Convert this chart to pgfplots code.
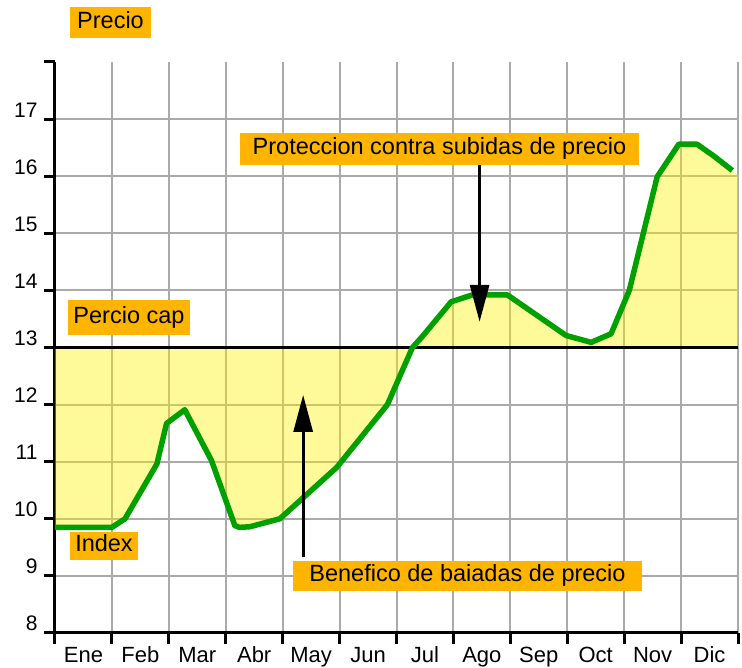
\documentclass[border=0pt]{standalone}
\usepackage{pgfplots}
\pgfplotsset{compat=1.18}
\usepackage{fontspec}
\setmainfont{Liberation Sans}
\usetikzlibrary{arrows.meta}
\definecolor{boxor}{RGB}{255,180,0}
\definecolor{lgreen}{RGB}{0,160,0}
\definecolor{gridg}{RGB}{170,170,170}
\begin{document}
\begin{tikzpicture}[x=1pt,y=1pt]
\begin{axis}[
  at={(0pt,0pt)}, anchor=south west,
  scale only axis, width=683pt, height=571pt,
  xmin=0, xmax=12, ymin=8, ymax=18,
  axis x line*=bottom, axis y line*=left,
  axis line style={line width=3pt, black},
  xtick={0,...,12},
  xticklabels={Ene,Feb,Mar,Abr,May,Jun,Jul,Ago,Sep,Oct,Nov,Dic,{}},
  xticklabel style={anchor=base, xshift=28.46pt, yshift=-19pt, font=\fontsize{22}{26}\selectfont},
  ytick={8,...,17},
  extra y ticks={18}, extra y tick labels={}, extra y tick style={grid=none},
  yticklabel style={anchor=base east, yshift=2pt, xshift=-3pt, font=\fontsize{21}{25}\selectfont},
  /pgf/number format/assume math mode=true,
  tick align=outside, major tick length=11pt,
  tick style={line width=3pt, black},
  grid=major, grid style={line width=2pt, gridg},
  clip=false,
]
\addplot[draw=none, fill=yellow, fill opacity=0.4] coordinates {
(0,13) (0,9.85) (1,9.85) (1.23,10.0) (1.79,10.96) (1.96,11.67) (2.28,11.91) (2.75,11.02)
(3.16,9.88) (3.24,9.85) (3.42,9.86) (3.95,10.0) (4.95,10.9) (5.84,12.0) (6.28,13.0)
(6.46,13.2) (6.96,13.8) (7.33,13.92) (7.95,13.92) (8.98,13.21) (9.42,13.09) (9.77,13.24)
(10.09,14.0) (10.58,15.99) (10.96,16.56) (11.28,16.56) (11.58,16.35) (11.9,16.1) (12,16.0) (12,13)
} -- cycle;
\addplot[black, line width=3pt] coordinates {(0,13) (12,13)};
\addplot[lgreen, line width=5.5pt, line join=round] coordinates {
(0,9.85) (1,9.85) (1.23,10.0) (1.79,10.96) (1.96,11.67) (2.28,11.91) (2.75,11.02)
(3.16,9.88) (3.24,9.85) (3.42,9.86) (3.95,10.0) (4.95,10.9) (5.84,12.0) (6.28,13.0)
(6.46,13.2) (6.96,13.8) (7.33,13.92) (7.95,13.92) (8.98,13.21) (9.42,13.09) (9.77,13.24)
(10.09,14.0) (10.58,15.99) (10.96,16.56) (11.28,16.56) (11.58,16.35) (11.9,16.1)
};
\draw[line width=3pt, -{Triangle[width=19pt,length=37pt]}] (axis cs:7.46,16.2) -- (axis cs:7.46,13.45);
\draw[line width=3pt, -{Triangle[width=19pt,length=37pt]}] (axis cs:4.36,9.33) -- (axis cs:4.36,12.17);
\coordinate (O) at (axis cs:0,8);
\end{axis}
\begin{scope}[shift={(O)}, shift={(-55,-35)}]
\tikzset{lab/.style={fill=boxor, inner sep=0pt, text height=17pt, text depth=5pt, font=\fontsize{23.5}{28}\selectfont}}
\node[lab, minimum width=81pt, minimum height=31pt] at (110.5,645.5) {Precio};
\node[lab, minimum width=122pt, minimum height=35pt] at (129,350.5) {Percio cap};
\node[lab, minimum width=68pt, minimum height=28pt] at (104,122) {Index};
\node[lab, minimum width=399pt, minimum height=32pt] at (439.5,519) {Proteccion contra subidas de precio};
\node[lab, minimum width=349pt, minimum height=30pt] at (467.5,92) {Benefico de baiadas de precio};
\pgfresetboundingbox
\path[use as bounding box] (0,0) rectangle (742,668);
\end{scope}
\end{tikzpicture}
\end{document}
